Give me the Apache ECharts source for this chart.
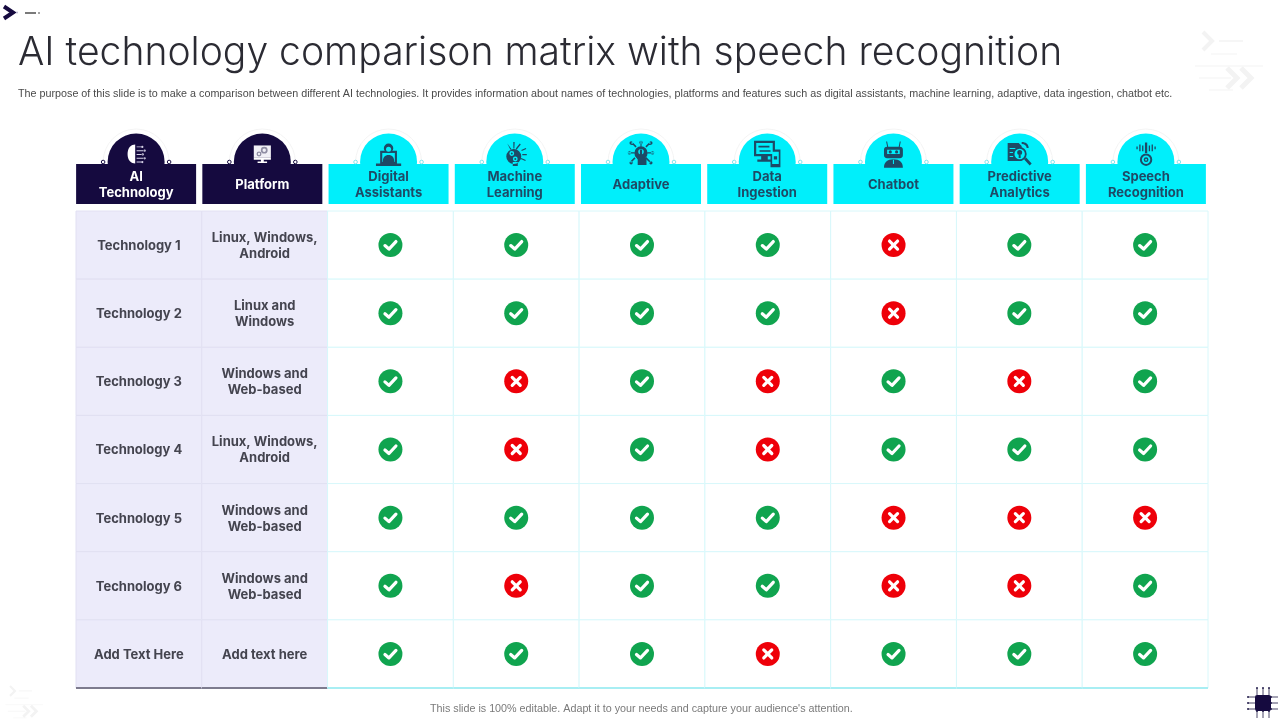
<!DOCTYPE html>
<html>
<head>
<meta charset="utf-8">
<title>AI technology comparison matrix</title>
<script src="https://cdn.jsdelivr.net/npm/echarts@6/dist/echarts.min.js"></script>
<style>
  html, body { margin: 0; padding: 0; background: #fff; }
  #main { width: 1280px; height: 720px; }
</style>
</head>
<body>
<div id="main"></div>
<script>
// categories
const headers = ["AI\nTechnology", "Platform", "Digital\nAssistants", "Machine\nLearning", "Adaptive", "Data\nIngestion", "Chatbot", "Predictive\nAnalytics", "Speech\nRecognition"];
const technologies = ["Technology 1", "Technology 2", "Technology 3", "Technology 4", "Technology 5", "Technology 6", "Add Text Here"];
const platforms = ["Linux, Windows,\nAndroid", "Linux and\nWindows", "Windows and\nWeb-based", "Linux, Windows,\nAndroid", "Windows and\nWeb-based", "Windows and\nWeb-based", "Add text here"];

// 1 = check, 0 = cross, one list per feature, top row first
const digitalAssistants = [1, 1, 1, 1, 1, 1, 1];
const machineLearning = [1, 1, 0, 0, 1, 0, 1];
const adaptive = [1, 1, 1, 1, 1, 1, 1];
const dataIngestion = [1, 1, 0, 0, 1, 1, 0];
const chatbot = [0, 0, 1, 1, 0, 0, 1];
const predictiveAnalytics = [1, 1, 0, 1, 0, 0, 1];
const speechRecognition = [1, 1, 1, 1, 0, 1, 1];
const features = [digitalAssistants, machineLearning, adaptive, dataIngestion, chatbot, predictiveAnalytics, speechRecognition];

const NAVY = "#150A3F";
const CYAN = "#00EFFB";
const TEAL = "#1E4A66";
const BODY_FONT = "Inter";

const circ = (x, y, r) => `M${x - r} ${y}a${r} ${r} 0 1 0 ${2 * r} 0a${r} ${r} 0 1 0 ${-2 * r} 0z`;

// header icons in a 24 unit box, painted layer by layer: [colour, path]
const icons = [
  [["#fff", "M11 2C7 2 3 5 3 12s4 10 8 10z"],
   ["#D5D2E6", "M12.500 4h5v1h-5z M12.500 8h8v1h-8z M12.500 12h6v1h-6z M12.500 16h8v1h-8z M12.500 20h5v1h-5z" + circ(18.500, 4.500, 1.200) + circ(21, 8.500, 1.200) + circ(19, 12.500, 1.200) + circ(21, 16.500, 1.200) + circ(18.500, 20.500, 1.200)]],
  [["#F1F0F6", "M3 3h18v13H3z"],
   ["#8F8DA3", circ(14, 8, 3.600) + circ(8.500, 12, 2.600)],
   ["#F1F0F6", circ(14, 8, 1.800) + circ(8.500, 12, 1.200)],
   ["#fff", "M3 16h18v2H3z M10.500 18h3v2h-3z M7 20h10v1.500H7z"]],
  [[TEAL, "M4 9h16v12H4z M0 21h24v2.500H0z"],
   [CYAN, "M6 11h12v8.500H6z"],
   [TEAL, circ(12, 6.500, 4.500) + "M6.500 19.500c0-4 2-6.500 5.500-6.500s5.500 2.500 5.500 6.500z"],
   [CYAN, circ(12, 7.500, 2.400)]],
  [[TEAL, circ(11, 14.500, 7.500) + "M10 20h5v4h-5z M4.500 1.500l4.500 6-1 1z M10.500 0h1.400l-.3 6.500h-1z M17 1.500l1 1-4 5-1-1z M18.500 8l4.500-2 .5 1-4.500 2z M19.500 12h4.500v1.300h-4.500z M18.500 16l4.500 2-.5 1-4.500-2z"],
   [CYAN, circ(9, 11.500, 2.400) + circ(12.500, 17, 2.400)],
   [TEAL, circ(9, 11.500, 1) + circ(12.500, 17, 1)]],
  [[TEAL, circ(12, 11, 6) + "M11.500 0h1v5h-1z M11.500 17h1v3h-1z M0 10.500h6v1H0z M18 10.500h6v1h-6z M3 2l1-1 4 4-1 1z M20 1l1 1-4 4-1-1z M3 20l-1-1 4-4 1 1z M21 19l-1 1-4-4 1-1z" + circ(12, 1.500, 1.500) + circ(1.500, 11, 1.500) + circ(22.500, 11, 1.500) + circ(3, 2, 1.500) + circ(21, 2, 1.500) + circ(3, 20, 1.500) + circ(21, 20, 1.500)],
   [CYAN, circ(12, 10, 2.500)],
   [TEAL, "M11 8h2v7h4v7H9v-5l-2-3 2-.5 2 2z"]],
  [[TEAL, "M0 0h19v14H0z M6.500 14h6v3h-6z M3 17h13v2H3z M15 8h9v16h-9z"],
   [CYAN, "M2 2h15v10H2z M16.500 10h6v11h-6z"],
   [TEAL, "M4 4.500h10v1.500H4z M5 8.500h10V10H5z M18 14h3v3h-3z"]],
  [[TEAL, "M6 5h12a3 3 0 0 1 3 3v5a3 3 0 0 1-3 3H6a3 3 0 0 1-3-3V8a3 3 0 0 1 3-3z M5 0h1l1 5H6z M18 0h1l-1 5h-1z M3 25c0-5 3-8 9-8s9 3 9 8z"],
   [CYAN, "M6 8h12v4H6z M11.500 17.500h1v4h-1z"],
   [TEAL, circ(9, 10, 1.500) + circ(15, 10, 1.500)]],
  [[TEAL, "M0 1h11l3 3v15H0z M14 0c4 0 7 2 7 6h-2c0-2-2-4-5-4z M16.500 17.500l2-2 5.500 6-2 2z"],
   [CYAN, "M2 6h6v1H2z M2 10h4v1H2z M2 14h4v1H2z"],
   [TEAL, circ(12, 12, 7)],
   [CYAN, circ(12, 12, 5.200)],
   [TEAL, circ(12, 10.500, 2.500) + "M11 13h2v3h-2z"]],
  [[TEAL, "M11 0h2.400v11H11z M8 3h1.400v6H8z M5 2h1.400v7H5z M2 4h1.400v3H2z M15 3h1.400v6H15z M18 2h1.400v7H18z M21 4h1.400v3H21z" + circ(12.200, 18, 6.500)],
   [CYAN, circ(12.200, 18, 4.400)],
   [TEAL, circ(12.200, 18, 2.500)],
   [CYAN, circ(12.200, 18, 1)]]
];
const iconScale = [0.95, 0.95, 1.05, 1, 1.1, 1.1, 1.05, 1, 0.95];

function renderHeader(params, api) {
  const i = api.value(0);
  const x = api.coord([i, 0])[0];
  const top = params.coordSys.y;
  const fill = i < 2 ? NAVY : CYAN;
  const knob = i < 2 ? NAVY : "#7FE6EE";
  const k = iconScale[i];
  const kids = [
    { type: "circle", shape: { cx: x, cy: top + 29, r: 33 }, style: { fill: "#fff", stroke: "#F4F4F4", lineWidth: 1 } },
    { type: "circle", shape: { cx: x, cy: top + 29, r: 28.5 }, style: { fill: fill } },
    { type: "rect", shape: { x: x - 60, y: top + 31, width: 120, height: 40 }, style: { fill: fill } },
    { type: "circle", shape: { cx: x - 33, cy: top + 29, r: 1.8 }, style: { fill: "#fff", stroke: knob, lineWidth: 1 } },
    { type: "circle", shape: { cx: x + 33, cy: top + 29, r: 1.8 }, style: { fill: "#fff", stroke: knob, lineWidth: 1 } }
  ];
  icons[i].forEach((layer) => {
    kids.push({
      type: "path",
      shape: { pathData: layer[1] },
      x: x - 12 * k, y: top + 21 - 12 * k, scaleX: k, scaleY: k,
      style: { fill: layer[0] }
    });
  });
  kids.push({
    type: "text",
    style: {
      text: headers[i], x: x, y: top + 52, align: "center", verticalAlign: "middle",
      fontFamily: BODY_FONT, fontWeight: 700, fontSize: 13, lineHeight: 16,
      fill: i < 2 ? "#fff" : TEAL
    }
  });
  return { type: "group", children: kids };
}

function renderCell(params, api) {
  const col = api.value(0);
  const row = api.value(1);
  const c = api.coord([col, row]);
  const s = api.size([1, 1]);
  const lav = col < 2;
  const kids = [{
    type: "rect",
    shape: { x: c[0] - s[0] / 2, y: c[1] - s[1] / 2, width: s[0], height: s[1] },
    style: { fill: lav ? "#ECEBFA" : "#fff", stroke: lav ? "#E1E0F2" : "#D8F8FB", lineWidth: 1 }
  }];
  if (row === technologies.length - 1) {
    kids.push({
      type: "line",
      shape: { x1: c[0] - s[0] / 2, y1: c[1] + s[1] / 2, x2: c[0] + s[0] / 2, y2: c[1] + s[1] / 2 },
      style: { stroke: lav ? "#7D7B8E" : "#A8EEF3", lineWidth: 2 }
    });
  }
  return { type: "group", children: kids };
}

function renderLabel(params, api) {
  const col = api.value(0);
  const row = api.value(1);
  const c = api.coord([col, row]);
  return {
    type: "text",
    style: {
      text: col === 0 ? technologies[row] : platforms[row],
      x: c[0], y: c[1] + 1, align: "center", verticalAlign: "middle",
      fontFamily: BODY_FONT, fontWeight: 700, fontSize: 13, lineHeight: 16, fill: "#44444F"
    }
  };
}

function renderMark(params, api) {
  const c = api.coord([api.value(0), api.value(1)]);
  const ok = api.value(2) === 1;
  const x = c[0], y = c[1];
  const white = { stroke: "#fff", fill: "none", lineWidth: 3.2, lineCap: "round", lineJoin: "round" };
  const glyph = ok
    ? [{ type: "polyline", shape: { points: [[x - 5.5, y + 0.5], [x - 1.5, y + 4], [x + 5.5, y - 3.5]] }, style: white }]
    : [
        { type: "line", shape: { x1: x - 4, y1: y - 4, x2: x + 4, y2: y + 4 }, style: white },
        { type: "line", shape: { x1: x + 4, y1: y - 4, x2: x - 4, y2: y + 4 }, style: white }
      ];
  return {
    type: "group",
    children: [{ type: "circle", shape: { cx: x, cy: y, r: 12 }, style: { fill: ok ? "#10A44F" : "#EE0009" } }].concat(glyph)
  };
}

const cellData = [];
const labelData = [];
technologies.forEach((t, r) => {
  headers.forEach((h, c) => cellData.push([c, r]));
  labelData.push([0, r], [1, r]);
});
const markData = [];
features.forEach((list, f) => list.forEach((v, r) => markData.push([f + 2, r, v])));

// faint speed-arrow decoration in the slide corners
function fadedArrows(x, y, k, color) {
  const line = (x1, y1, x2, y2, w) => ({ type: "line", shape: { x1: x + x1 * k, y1: y + y1 * k, x2: x + x2 * k, y2: y + y2 * k }, style: { stroke: color, lineWidth: w * k } });
  const chev = (x1, y1, s, w) => ({ type: "polyline", shape: { points: [[x + x1 * k, y + y1 * k], [x + (x1 + s) * k, y + (y1 + s) * k], [x + x1 * k, y + (y1 + 2 * s) * k]] }, style: { stroke: color, fill: "none", lineWidth: w * k } });
  return [
    chev(0, 0, 9, 4), line(16, 9, 40, 9, 1.5), line(8, 22, 34, 22, 1), line(-8, 34, 60, 34, 1),
    chev(24, 36, 10, 5), chev(38, 36, 10, 5), line(-4, 46, 28, 46, 1), line(6, 58, 30, 58, 1)
  ];
}

// chip pins: one line and an end dot per pin
function chipPins(cx, cy) {
  const out = [];
  [-6, 0, 6].forEach((d) => {
    [[d, -15, d, -8], [d, 8, d, 15], [-15, d, -8, d], [8, d, 15, d]].forEach((p) => {
      out.push({ type: "line", shape: { x1: cx + p[0], y1: cy + p[1], x2: cx + p[2], y2: cy + p[3] }, style: { stroke: "#4A4668", lineWidth: 1 } });
      out.push({ type: "circle", shape: { cx: cx + p[0], cy: cy + p[1], r: 1 }, style: { fill: "#2A2450" } });
    });
  });
  return out;
}

const chart = echarts.init(document.getElementById("main"));
chart.setOption({
  animation: false,
  tooltip: { show: false },
  title: [
    { text: "AI technology comparison matrix with speech recognition", left: 18, top: 34, padding: 0,
      textStyle: { fontFamily: "Inter", fontWeight: 300, fontSize: 39.1, color: "#2B2B33" } },
    { text: "The purpose of this slide is to make a comparison between different AI technologies. It provides information about names of technologies, platforms and features such as digital assistants, machine learning, adaptive, data ingestion, chatbot etc.", left: 18, top: 89, padding: 0,
      textStyle: { fontFamily: "Liberation Sans", fontWeight: 400, fontSize: 10.75, color: "#4A4A4A" } },
    { text: "This slide is 100% editable. Adapt it to your needs and capture your audience's attention.", left: 430, top: 704, padding: 0,
      textStyle: { fontFamily: "Liberation Sans", fontWeight: 400, fontSize: 10.75, color: "#7A7A7A" } }
  ],
  grid: [
    { left: 76, top: 211, width: 1132, height: 477, show: false },
    { left: 73, top: 133, width: 1136, height: 71, show: false }
  ],
  xAxis: [
    { type: "category", gridIndex: 0, data: headers, show: false },
    { type: "category", gridIndex: 1, data: headers, show: false }
  ],
  yAxis: [
    { type: "category", gridIndex: 0, data: technologies, inverse: true, show: false },
    { type: "value", gridIndex: 1, min: 0, max: 1, show: false }
  ],
  series: [
    { type: "custom", xAxisIndex: 1, yAxisIndex: 1, renderItem: renderHeader, data: headers.map((h, i) => [i, 0]), clip: false, silent: true, z: 3 },
    { type: "custom", renderItem: renderCell, data: cellData, clip: false, silent: true, z: 2 },
    { type: "custom", renderItem: renderLabel, data: labelData, clip: false, silent: true, z: 4 },
    { type: "custom", renderItem: renderMark, data: markData, clip: false, silent: true, z: 4 }
  ],
  graphic: [
    // top-left mark
    { type: "polyline", shape: { points: [[4, 6.500], [13, 12.500], [4, 18.500]] }, style: { stroke: NAVY, fill: "none", lineWidth: 4 } },
    { type: "line", shape: { x1: 25, y1: 13, x2: 36, y2: 13 }, style: { stroke: "#222", lineWidth: 1.200 } },
    { type: "circle", shape: { cx: 39, cy: 13, r: 0.800 }, style: { fill: "#333" } },
    { type: "circle", shape: { cx: 17, cy: 12.500, r: 1 }, style: { fill: "#B9B6D0" } }
  ]
    .concat(fadedArrows(1203, 32, 1, "#F3F3F3"))
    .concat(fadedArrows(10, 686, 0.55, "#F3F3F3"))
    .concat(chipPins(1263, 703))
    .concat([
      { type: "rect", shape: { x: 1255, y: 695, width: 16, height: 16, r: 2 }, style: { fill: NAVY } }
    ])
});
</script>
</body>
</html>
